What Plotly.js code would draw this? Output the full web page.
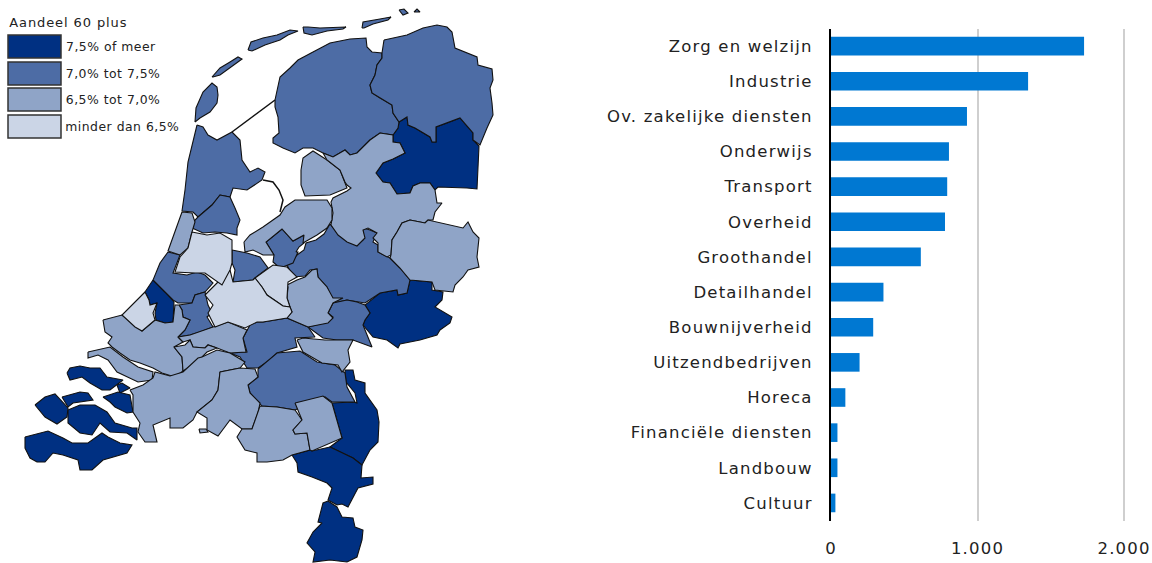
<!DOCTYPE html>
<html><head><meta charset="utf-8">
<script src="https://cdn.plot.ly/plotly-3.0.1.min.js"></script>
<style>html,body{margin:0;padding:0;background:#fff}#c{width:1152px;height:563px}
g.y2tick text,g.x2tick text{letter-spacing:1.2px}
.annotation text{letter-spacing:.5px}
.annotation[data-index="4"] text{letter-spacing:.9px}
</style>
</head><body><div id="c"></div>
<script>
const categories=["Zorg en welzijn","Industrie","Ov. zakelijke diensten","Onderwijs","Transport","Overheid","Groothandel","Detailhandel","Bouwnijverheid","Uitzendbedrijven","Horeca","Financiële diensten","Landbouw","Cultuur"];
const values=[1727,1345,928,805,793,778,613,358,288,195,98,44,44,30];
const xTicks=[0,1000,2000];
const xTickLabels=["0","1.000","2.000"];
const legendTitle="Aandeel 60 plus";
const legendLabels=["7,5% of meer","7,0% tot 7,5%","6,5% tot 7,0%","minder dan 6,5%"];
const levelColors=["#003082","#4d6ca5","#8fa4c7","#cbd5e6"];

// Region outlines, in map units
const darkRegions=[
[[399,122],[407,117],[408,125],[415,128],[430,137],[432,142],[436,142],[436,127],[447,123],[460,118],[473,133],[473,140],[479,146],[477,189],[467,188],[438,187],[435,190],[430,183],[420,183],[413,186],[410,193],[397,194],[390,183],[383,182],[376,173],[383,163],[393,159],[405,153],[400,143],[393,142],[393,135],[398,128]],
[[410,280],[432,282],[432,290],[443,292],[442,300],[435,307],[452,317],[450,323],[440,330],[437,335],[420,340],[410,342],[400,344],[398,348],[387,340],[373,337],[363,325],[365,320],[370,313],[365,305],[380,293],[397,290],[398,295],[407,293]],
[[153,280],[145,292],[149,300],[150,305],[157,303],[155,313],[156,320],[165,323],[173,322],[174,302],[165,292]],
[[332,403],[353,402],[357,403],[355,393],[346,382],[345,370],[353,370],[355,380],[365,383],[365,393],[377,410],[379,422],[378,442],[370,450],[362,465],[353,458],[330,447],[342,438]],
[[292,455],[310,450],[312,451],[330,447],[353,458],[362,465],[361,478],[373,477],[373,484],[358,488],[348,507],[342,504],[337,505],[328,500],[332,488],[327,483],[312,477],[298,472],[297,463]],
[[328,501],[337,507],[342,517],[353,518],[355,527],[363,530],[362,540],[357,557],[347,562],[330,560],[313,562],[315,552],[307,543],[313,532],[322,523],[318,522],[323,503]],
[[67,373],[70,368],[80,366],[90,368],[100,368],[107,377],[123,380],[110,390],[102,390],[90,383],[82,377],[70,380]],
[[117,385],[122,383],[130,388],[120,393]],
[[103,397],[118,392],[130,395],[133,412],[127,413],[115,407],[110,402]],
[[35,405],[45,397],[55,394],[59,398],[68,408],[67,417],[57,424],[45,417]],
[[62,397],[80,392],[88,393],[93,400],[73,403],[68,407]],
[[68,410],[80,405],[95,405],[107,412],[115,423],[132,428],[137,428],[137,440],[127,433],[110,432],[100,423],[92,435],[80,433],[68,423]],
[[25,437],[40,433],[48,431],[63,438],[72,443],[88,443],[102,433],[108,437],[120,443],[132,445],[127,453],[103,460],[92,470],[80,470],[78,460],[63,455],[53,453],[45,462],[37,462],[30,458],[25,448]]
];
const midRegions=[
[[195,122],[196,108],[203,92],[212,83],[217,87],[218,95],[217,103],[210,112],[200,118]],
[[212,77],[220,68],[230,62],[238,57],[242,59],[235,64],[227,70],[220,75],[213,77]],
[[248,50],[251,42],[263,38],[277,35],[290,30],[298,31],[288,35],[280,40],[265,45],[252,51]],
[[303,27],[308,27],[320,28],[346,27],[343,29],[327,31],[312,35],[304,33]],
[[362,28],[363,22],[380,19],[391,17],[388,20],[373,24],[364,28]],
[[399,10],[404,9],[408,13],[403,15]],
[[414,12],[417,9],[420,12]],
[[275,100],[278,87],[280,77],[290,68],[298,60],[313,52],[330,43],[350,39],[366,38],[367,47],[372,52],[382,53],[382,58],[377,65],[375,75],[370,85],[372,93],[380,98],[392,105],[393,113],[399,122],[398,128],[393,135],[380,133],[370,140],[357,153],[350,155],[345,150],[333,157],[323,153],[313,148],[303,148],[295,153],[283,148],[273,143],[273,138],[279,133],[278,117],[275,107]],
[[384,40],[407,35],[423,28],[437,25],[447,27],[452,32],[455,48],[467,53],[477,57],[478,65],[492,69],[493,80],[490,88],[492,103],[493,115],[487,128],[480,145],[473,140],[473,133],[460,118],[447,123],[436,127],[436,142],[432,142],[430,137],[415,128],[408,125],[407,117],[399,122],[393,113],[392,105],[380,98],[372,93],[370,85],[375,75],[377,65],[382,58],[382,53]],
[[197,125],[203,127],[208,135],[217,140],[232,132],[240,140],[242,160],[250,172],[258,168],[265,172],[262,180],[247,190],[233,188],[230,197],[220,195],[212,205],[198,217],[193,212],[182,211],[185,190],[188,162],[193,140]],
[[198,217],[212,205],[220,195],[230,197],[235,208],[240,220],[237,228],[237,235],[227,233],[215,232],[203,233],[192,228],[195,220]],
[[330,224],[338,233],[345,239],[356,245],[363,240],[363,228],[370,230],[377,233],[373,242],[378,245],[378,252],[388,257],[390,258],[400,268],[410,280],[407,293],[398,295],[397,290],[380,293],[365,303],[357,302],[347,300],[333,303],[327,287],[318,277],[317,269],[310,270],[305,276],[293,277],[287,265],[297,255],[304,250],[306,243],[316,240],[324,234]],
[[266,242],[282,229],[293,241],[304,235],[304,243],[299,247],[296,252],[298,252],[293,263],[280,268],[273,262],[274,255]],
[[232,250],[247,253],[260,257],[268,268],[255,278],[253,280],[233,282],[235,270],[232,263]],
[[333,303],[347,300],[357,302],[365,305],[370,313],[365,320],[363,325],[372,347],[353,340],[337,340],[323,338],[312,330],[308,327],[328,322],[333,317],[328,313]],
[[168,252],[180,255],[173,273],[187,275],[197,272],[205,275],[213,283],[205,292],[195,295],[192,303],[178,303],[173,300],[165,292],[153,280],[160,263]],
[[179,305],[192,303],[195,295],[205,292],[208,305],[212,313],[207,317],[213,327],[200,332],[190,335],[178,337],[185,330],[190,320],[183,317],[182,310]],
[[287,318],[308,327],[315,337],[295,338],[297,347],[280,352],[277,353],[270,360],[258,368],[247,368],[240,357],[230,353],[247,352],[243,338],[250,325],[257,322],[263,322]],
[[258,369],[277,353],[300,351],[317,362],[335,365],[345,373],[347,387],[355,402],[332,402],[325,397],[295,410],[277,407],[262,406],[250,393],[248,385],[258,377]]
];
const lightRegions=[
[[301,170],[303,158],[313,151],[327,160],[340,170],[345,182],[347,188],[330,195],[312,196],[305,196],[301,185]],
[[323,153],[333,157],[345,150],[350,155],[357,153],[370,140],[380,133],[393,135],[393,142],[400,143],[405,153],[393,159],[383,163],[376,173],[383,182],[390,183],[397,194],[410,193],[413,186],[420,183],[430,183],[435,190],[437,203],[442,203],[435,212],[433,220],[428,220],[425,223],[410,220],[402,223],[397,232],[392,240],[391,255],[387,257],[378,252],[378,243],[373,238],[377,233],[368,228],[363,230],[365,238],[357,246],[347,242],[338,235],[331,225],[333,213],[331,202],[333,198],[347,191],[351,188],[347,185],[345,182],[340,170],[327,160]],
[[391,255],[392,240],[397,232],[402,223],[410,220],[425,223],[428,220],[450,225],[463,228],[468,222],[473,232],[479,238],[477,257],[479,267],[468,270],[463,277],[455,285],[453,292],[435,290],[432,282],[410,280],[400,268],[390,258]],
[[244,242],[250,235],[263,227],[280,215],[285,207],[295,200],[327,200],[332,208],[332,220],[327,228],[317,235],[303,243],[304,235],[293,241],[282,229],[266,242],[274,255],[263,255],[253,250],[245,252]],
[[287,285],[297,280],[305,277],[312,270],[317,269],[318,277],[327,287],[333,298],[343,298],[333,303],[328,313],[333,318],[328,323],[308,327],[287,318],[292,312],[290,307],[287,298],[288,287]],
[[182,212],[192,213],[195,222],[192,232],[188,248],[180,255],[168,251],[175,232]],
[[103,320],[122,315],[142,331],[155,320],[165,323],[173,322],[175,305],[179,305],[182,310],[183,317],[190,320],[185,330],[178,337],[183,342],[174,347],[182,357],[183,371],[175,377],[162,373],[153,368],[140,363],[130,360],[120,353],[112,347],[108,343],[112,337],[105,332]],
[[178,337],[190,335],[213,327],[228,322],[247,330],[243,338],[246,352],[230,353],[217,348],[208,345],[205,348],[193,347],[190,340],[183,342]],
[[174,347],[185,345],[190,340],[193,347],[205,348],[208,345],[217,348],[207,352],[197,362],[183,371],[182,357]],
[[88,352],[110,347],[123,357],[138,367],[153,372],[152,380],[138,382],[117,372],[108,360],[98,355],[88,358]],
[[130,390],[143,385],[153,378],[155,372],[170,376],[183,372],[198,358],[202,357],[217,350],[230,353],[245,362],[240,368],[220,372],[218,390],[212,400],[197,412],[193,420],[183,428],[170,428],[170,418],[153,425],[157,442],[145,442],[138,432],[140,423],[133,412],[133,395]],
[[220,372],[240,368],[255,369],[258,377],[248,385],[250,393],[260,403],[258,413],[252,429],[242,429],[230,420],[218,436],[207,430],[207,418],[197,412],[212,400],[218,390]],
[[260,406],[277,407],[295,410],[302,420],[293,430],[295,434],[307,433],[310,450],[292,455],[283,460],[267,462],[257,462],[257,453],[245,450],[237,437],[242,429],[252,429],[258,413]],
[[295,403],[323,396],[332,403],[342,438],[312,451],[310,450],[307,433],[295,434],[293,430],[302,420]],
[[297,340],[303,338],[325,340],[337,340],[353,340],[348,350],[350,362],[342,372],[338,365],[322,363],[303,352]],
[[199,429],[206,429],[208,432],[200,433]]
];
const palestRegions=[
[[255,278],[268,268],[273,265],[287,267],[297,277],[288,282],[287,298],[290,307],[283,306],[267,295],[262,287]],
[[207,293],[215,285],[230,270],[233,282],[253,280],[255,278],[262,287],[267,295],[283,306],[290,307],[292,312],[287,318],[263,322],[257,322],[245,328],[228,322],[215,327],[208,313],[213,305],[205,295]],
[[192,232],[207,235],[220,233],[232,240],[232,263],[230,270],[222,285],[205,273],[195,273],[175,272],[180,257],[188,248]],
[[145,292],[149,300],[150,305],[157,303],[153,313],[155,320],[142,331],[135,327],[122,315]]
];
const dikeLine=[[232,132],[275,100]];
const shoreLine=[[263,180],[273,182],[279,190],[283,200],[280,212]];

const data=[];
[darkRegions,midRegions,lightRegions,palestRegions].forEach((group,g)=>{
  group.forEach(poly=>{
    const xs=poly.map(p=>p[0]),ys=poly.map(p=>p[1]);
    xs.push(xs[0]);ys.push(ys[0]);
    data.push({type:'scatter',mode:'lines',x:xs,y:ys,xaxis:'x',yaxis:'y',fill:'toself',fillcolor:levelColors[g],
      line:{color:'#111',width:1.1},hoverinfo:'skip',showlegend:false});
  });
});
[dikeLine,shoreLine].forEach(l=>data.push({type:'scatter',mode:'lines',x:l.map(p=>p[0]),y:l.map(p=>p[1]),xaxis:'x',yaxis:'y',line:{color:'#111',width:1.5},hoverinfo:'skip',showlegend:false}));
data.push({type:'bar',orientation:'h',x:values,y:categories,xaxis:'x2',yaxis:'y2',marker:{color:'#0078d2'},width:0.53,hoverinfo:'skip',showlegend:false});

const boxTop=[35,62,88,115];
const shapes=levelColors.map((c,i)=>({type:'rect',xref:'x',yref:'y',x0:8,x1:61,y0:boxTop[i],y1:boxTop[i]+23,fillcolor:c,line:{color:'#333',width:1.5},layer:'above'}));
const family='"DejaVu Sans",Verdana,sans-serif';
const annotations=legendLabels.map((t,i)=>({xref:'x',yref:'y',x:67,y:boxTop[i]+11,text:t,showarrow:false,xanchor:'left',yanchor:'middle',font:{family,size:12.4,color:'#222'}}));
annotations.push({xref:'x',yref:'y',x:14,y:22,text:legendTitle,showarrow:false,xanchor:'left',yanchor:'middle',font:{family,size:13,color:'#222'}});

const layout={width:1152,height:563,margin:{l:0,r:0,t:0,b:0},paper_bgcolor:'#fff',plot_bgcolor:'rgba(0,0,0,0)',showlegend:false,shapes,annotations,
  xaxis:{domain:[0,540/1152],range:[0,540],visible:false,fixedrange:true},
  yaxis:{domain:[0,1],range:[563,0],visible:false,fixedrange:true},
  xaxis2:{domain:[831/1152,1127/1152],range:[0,2020],anchor:'y2',tickvals:xTicks,ticktext:xTickLabels,showgrid:true,gridcolor:'#cfcfcf',gridwidth:2,zeroline:false,ticks:'',ticklabelstandoff:16,tickfont:{family,size:16.5,color:'#222'},showline:false},
  yaxis2:{domain:[1-520.5/563,1-28.5/563],anchor:'x2',type:'category',autorange:false,range:[13.5,-0.5],showline:true,linecolor:'#000',linewidth:2,ticks:'',ticklabelstandoff:13,showgrid:false,tickfont:{family,size:16.5,color:'#222'}}
};
Plotly.newPlot('c',data,layout,{displayModeBar:false,staticPlot:true});
</script></body></html>
